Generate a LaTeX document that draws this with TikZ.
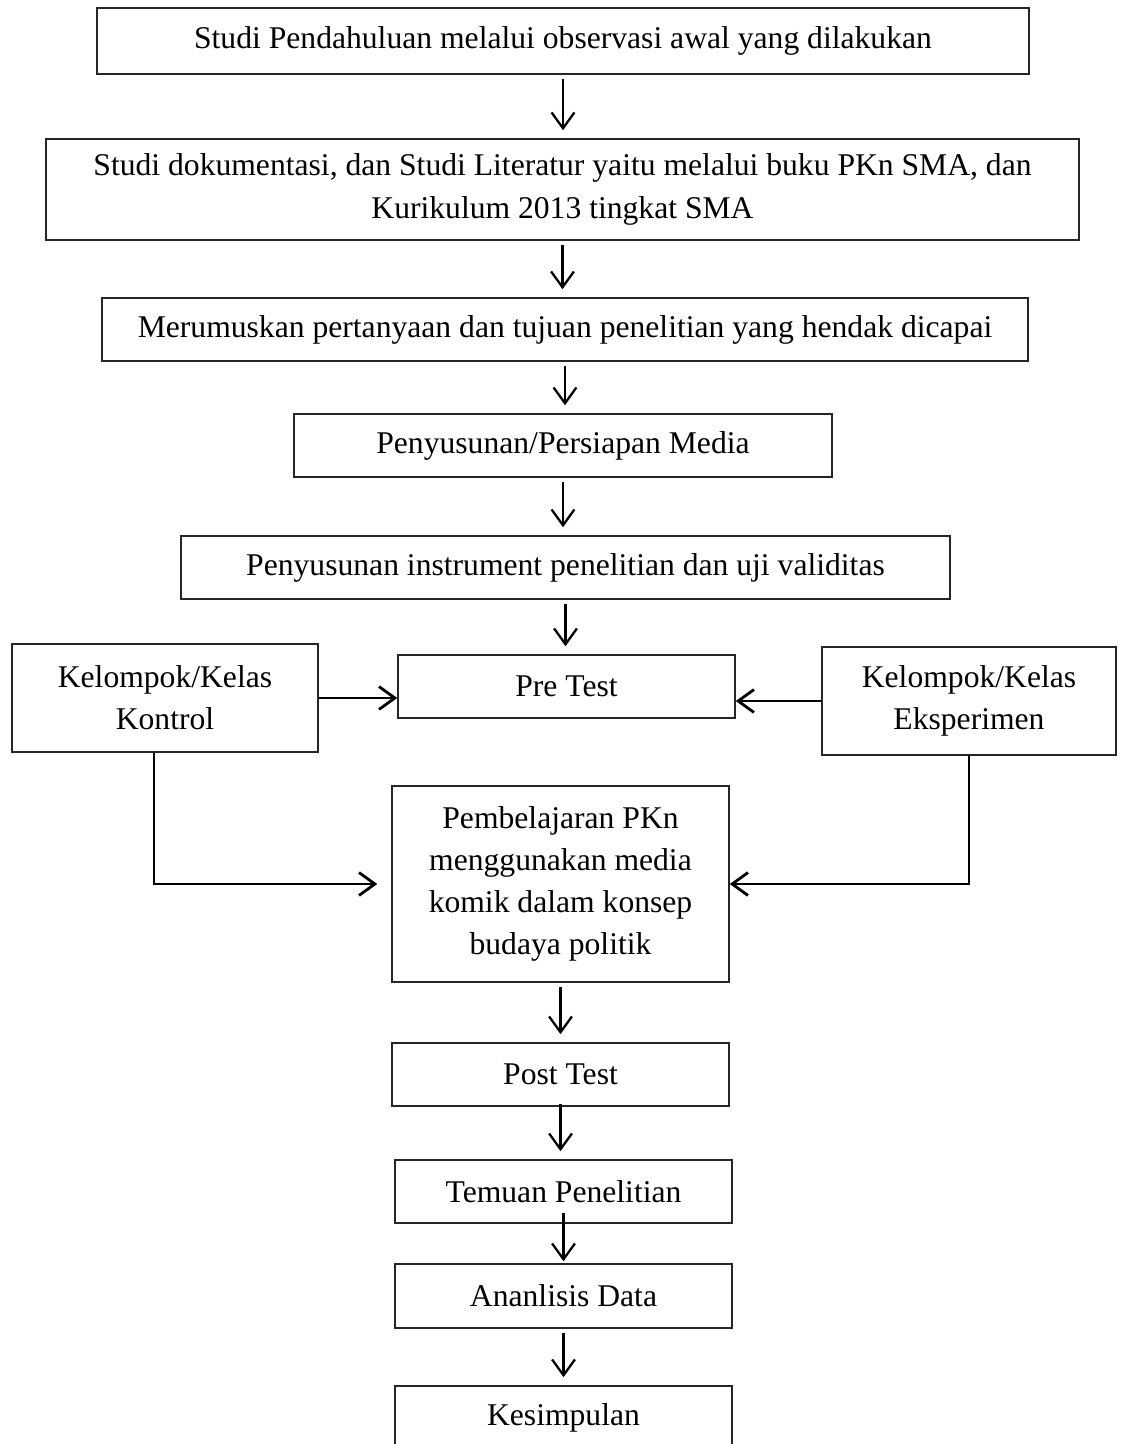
\documentclass[tikz,border=0pt]{standalone}
\usepackage{fontspec}
\setmainfont{Liberation Serif}
\usetikzlibrary{arrows.meta}
\begin{document}
\begin{tikzpicture}[x=0.02cm, y=-0.02cm,
    every node/.style={rectangle, draw=black!85, line width=0.9pt, inner sep=0pt, align=center, font=\fontsize{18}{24}\selectfont},
    every edge/.style={draw, line width=1.3pt, -{Straight Barb[length=9pt, width=13pt]}, shorten <=0.08cm, shorten >=0.16cm}]
      \useasboundingbox (0,0) rectangle (1121,1444);
      \node (1) at (563,41) [minimum width=18.64cm, minimum height=1.32cm] {Studi Pendahuluan melalui observasi awal yang dilakukan};
      \node (2) at (562.5,189.5) [minimum width=20.66cm, minimum height=2.02cm] {Studi dokumentasi, dan Studi Literatur yaitu melalui buku PKn SMA, dan\\Kurikulum 2013 tingkat SMA};
      \node (3) at (565,329.5) [minimum width=18.52cm, minimum height=1.26cm] {Merumuskan pertanyaan dan tujuan penelitian yang hendak dicapai};
      \node (4) at (563,445.5) [minimum width=10.76cm, minimum height=1.26cm] {Penyusunan/Persiapan Media};
      \node (5) at (565.5,567.5) [minimum width=15.38cm, minimum height=1.26cm] {Penyusunan instrument penelitian dan uji validitas};
      \node (6) at (566.5,686.5) [minimum width=6.74cm, minimum height=1.26cm] {Pre Test};
      \node (7) at (165,698) [minimum width=6.12cm, minimum height=2.16cm] {Kelompok/Kelas\\Kontrol};
      \node (8) at (969,701) [minimum width=5.88cm, minimum height=2.16cm] {Kelompok/Kelas\\Eksperimen};
      \node (9) at (560.5,884) [minimum width=6.74cm, minimum height=3.92cm] {Pembelajaran PKn\\menggunakan media\\komik dalam konsep\\budaya politik};
      \node (10) at (560.5,1074.5) [minimum width=6.74cm, minimum height=1.26cm] {Post Test};
      \node (11) at (563.5,1191.5) [minimum width=6.74cm, minimum height=1.26cm] {Temuan Penelitian};
      \node (12) at (563.5,1296) [minimum width=6.74cm, minimum height=1.28cm] {Ananlisis Data};
      \node (13) at (563.5,1417.5) [minimum width=6.74cm, minimum height=1.26cm] {Kesimpulan};
      \foreach \source/\dest in {1/2, 2/3, 3/4, 4/5, 5/6, 9/10, 12/13}
        \path (\source.south) edge (\source.south |- \dest.north);
      \path (10.south) edge[shorten <=-0.06cm] (10.south |- 11.north);
      \path (11.south) edge[shorten <=-0.22cm, shorten >=0.04cm] (11.south |- 12.north);
      \path (7.east) edge[line width=1.6pt, shorten <=0cm, shorten >=0cm] (7.east -| 6.west);
      \path (8.west) edge[line width=1.6pt, shorten <=0cm, shorten >=0cm] (8.west -| 6.east);
      \draw[line width=1.6pt, -{Straight Barb[length=9pt, width=13pt]}] ([xshift=-0.22cm]7.south) |- ([xshift=-0.28cm]9.west);
      \draw[line width=1.6pt, -{Straight Barb[length=9pt, width=13pt]}] (8.south) |- (9.east);
    \end{tikzpicture}
\end{document}
